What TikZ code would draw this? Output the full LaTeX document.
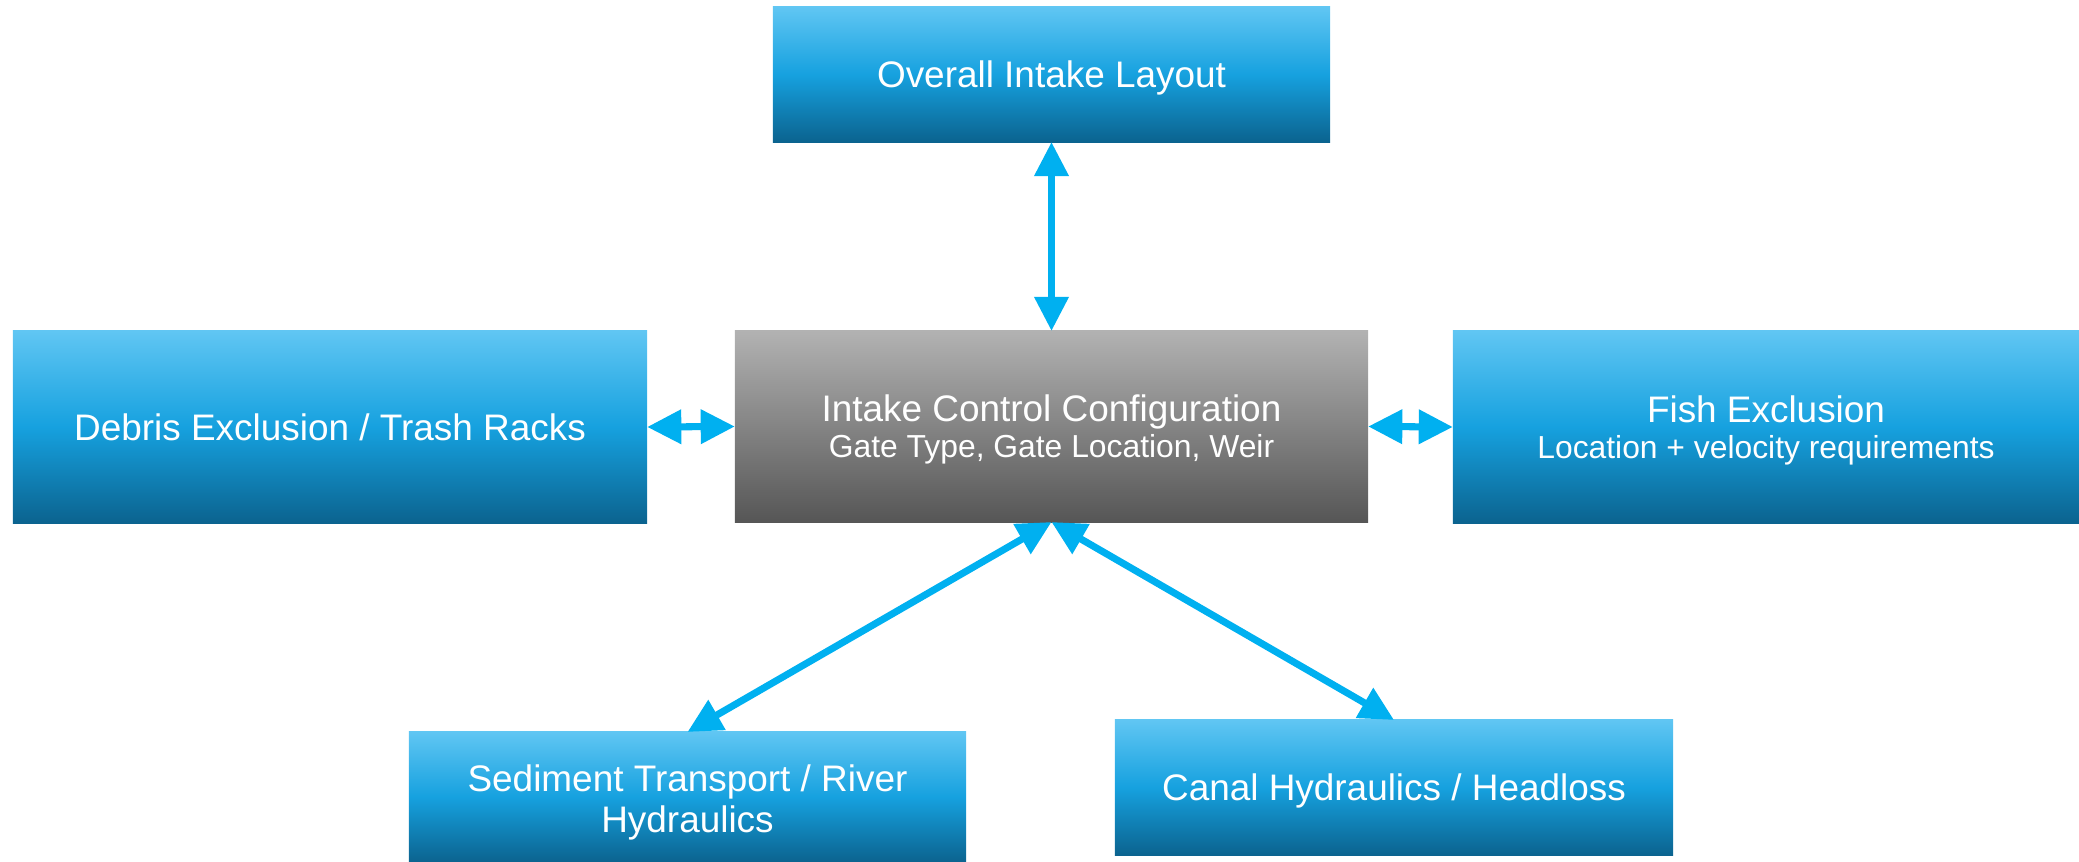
\documentclass[tikz,border=0pt]{standalone}
\usepackage{fontspec}
\setmainfont{Liberation Sans}
\usetikzlibrary{arrows.meta,shadings}
\lineskiplimit=-100pt
\lineskip=0pt
\definecolor{bluetop}{RGB}{96,198,243}
\definecolor{bluemid}{RGB}{22,161,223}
\definecolor{bluebot}{RGB}{11,99,143}
\definecolor{graytop}{RGB}{178,178,178}
\definecolor{graybot}{RGB}{86,86,86}
\definecolor{arrowblue}{RGB}{0,176,240}
\tikzset{
  boxbase/.style={rectangle, inner sep=0pt, outer sep=0pt, text=white, align=center,
    font=\fontsize{10.5}{12.6}\selectfont},
  bluebox/.style={boxbase, top color=bluetop, bottom color=bluebot, middle color=bluemid},
  graybox/.style={boxbase, top color=graytop, bottom color=graybot},
  oneline/.style={text height=7.65pt, text depth=0.15pt},
  twoline/.style={font=\fontsize{10.5}{10.2}\selectfont},
  conn/.style={draw=arrowblue, line width=2pt,
    {Triangle[length=9.7pt,width=9.4pt]}-{Triangle[length=9.7pt,width=9.4pt]}}
}
\newcommand{\subtext}[1]{{\fontsize{9.05}{10.2}\selectfont #1}}
\newcommand{\toprule}[1]{\rule{0pt}{#1}}
\begin{document}
\begin{tikzpicture}[x=0.01cm,y=-0.01cm]
\useasboundingbox (0,0) rectangle (2079,862);
\node[bluebox, oneline, minimum width=5.57cm, minimum height=1.35cm] (layout) at (1051.5,74.5) {Overall Intake Layout};
\node[graybox, twoline, minimum width=6.33cm, minimum height=1.91cm] (control) at (1051.5,426.5)
  {\toprule{9.38pt}Intake Control Configuration\\\subtext{Gate Type, Gate Location, Weir}};
\node[bluebox, oneline, minimum width=6.34cm, minimum height=1.92cm] (debris) at (330,427) {Debris Exclusion / Trash Racks};
\node[bluebox, twoline, minimum width=6.26cm, minimum height=1.92cm] (fish) at (1766,427)
  {\toprule{9.38pt}Fish Exclusion\\\subtext{Location + velocity requirements}};
\node[bluebox, font=\fontsize{10.5}{11.7}\selectfont, minimum width=5.57cm, minimum height=1.30cm] (sediment) at (687.5,797)
  {\toprule{10.65pt}Sediment Transport / River\\Hydraulics};
\node[bluebox, oneline, minimum width=5.58cm, minimum height=1.35cm] (canal) at (1394,787.5) {Canal Hydraulics / Headloss};
\draw[conn] (layout.south) -- (control.north);
\draw[conn] (debris.east) -- (control.west);
\draw[conn] (control.east) -- (fish.west);
\draw[conn] (control.south) -- (sediment.north);
\draw[conn] (control.south) -- (canal.north);
\end{tikzpicture}
\end{document}
